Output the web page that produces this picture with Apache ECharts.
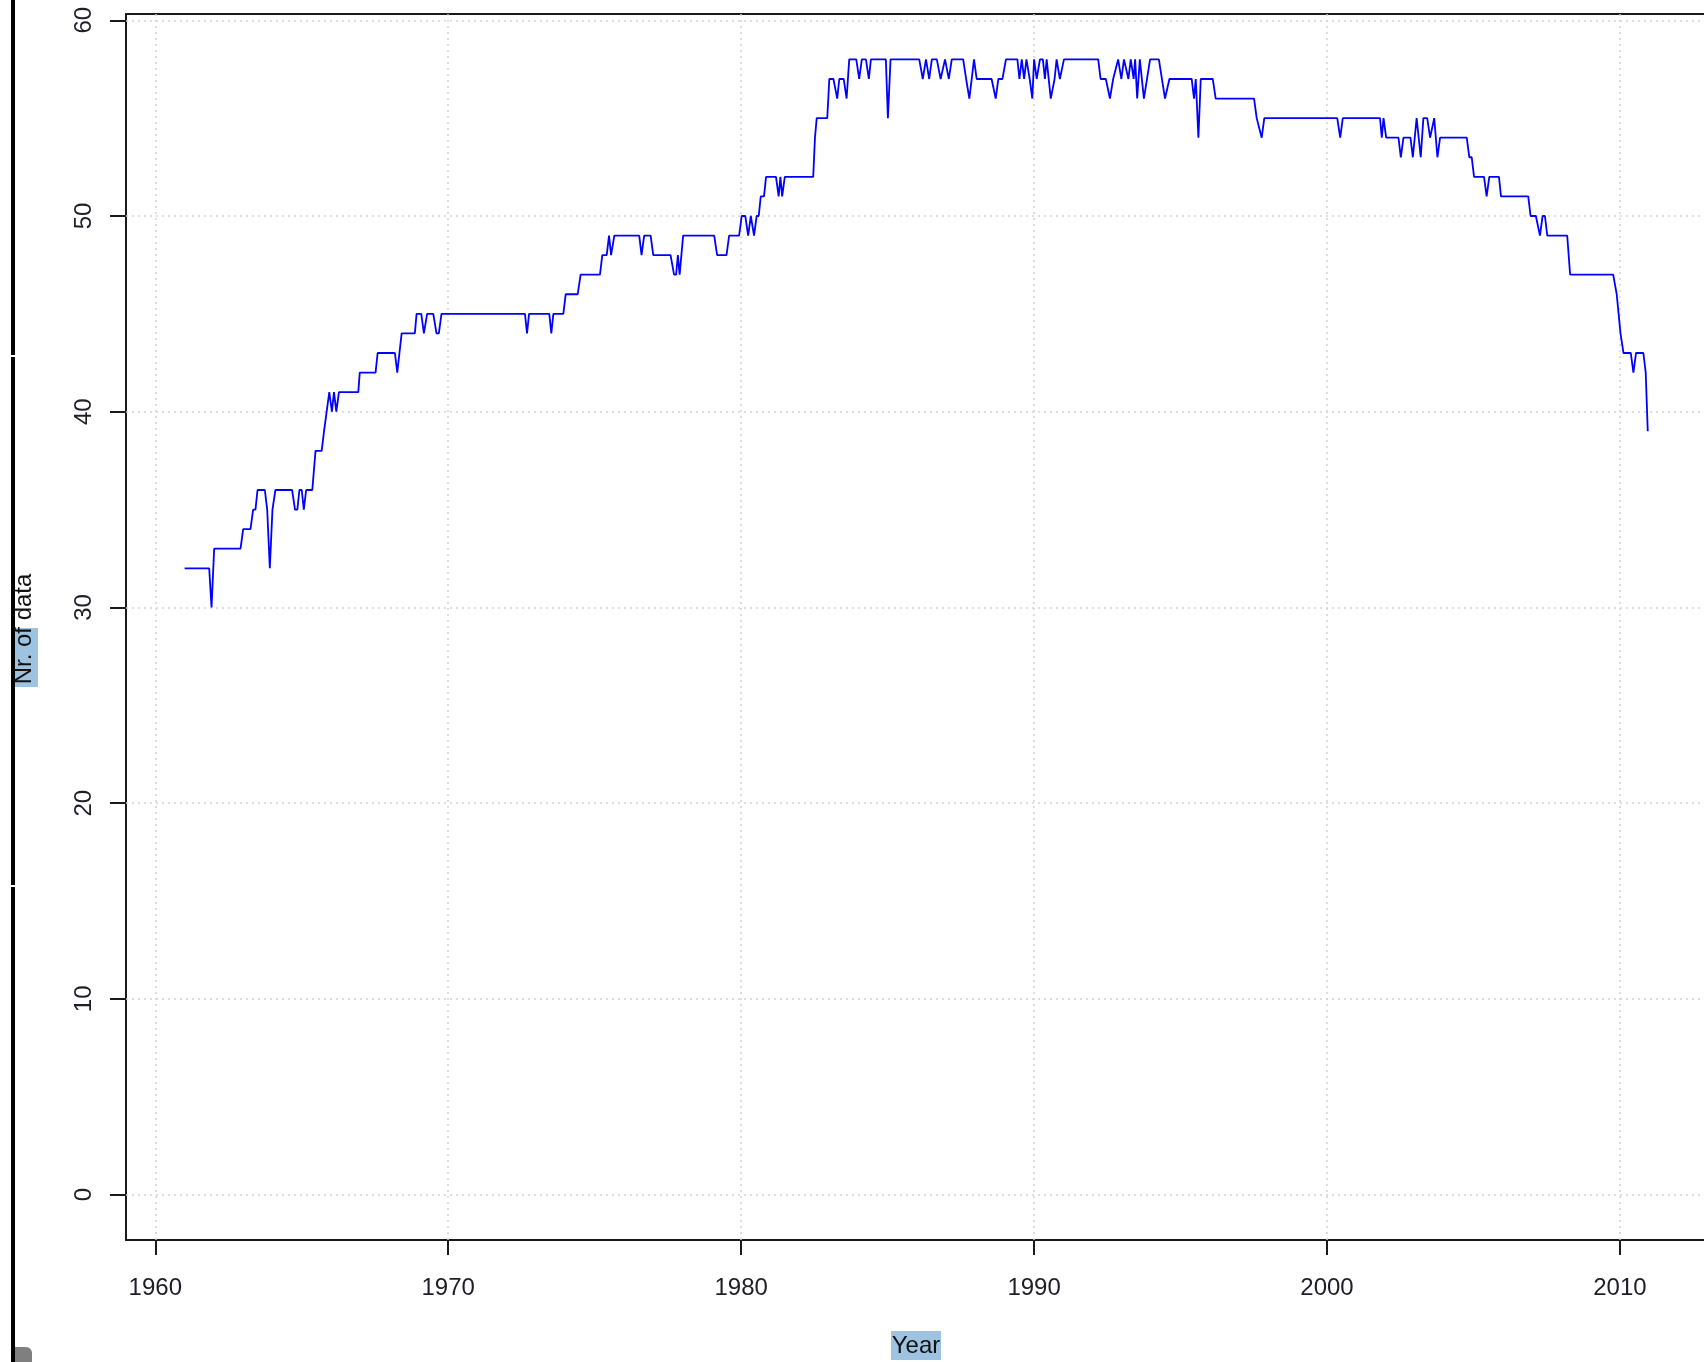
<!DOCTYPE html>
<html>
<head>
<meta charset="utf-8">
<script src="https://cdn.jsdelivr.net/npm/echarts@6/dist/echarts.min.js"></script>
<style>
  html, body { margin: 0; padding: 0; background: #fff; }
  #main { width: 1704px; height: 1362px; }
</style>
</head>
<body>
<div id="main"></div>
<script>
// vertices of the monthly count line (decimal year, nr. of data)
var years = [
  1961.00, 1961.84, 1961.92, 1962.01, 1962.91, 1963.00, 1963.25, 1963.34, 1963.42, 1963.49,
  1963.74, 1963.82, 1963.91, 1964.00, 1964.10, 1964.67, 1964.77, 1964.85, 1964.92, 1965.00,
  1965.07, 1965.15, 1965.36, 1965.47, 1965.68, 1965.76, 1965.85, 1965.94, 1966.03, 1966.10,
  1966.18, 1966.27, 1966.93, 1966.98, 1967.52, 1967.59, 1968.18, 1968.26, 1968.41, 1968.86,
  1968.92, 1969.08, 1969.17, 1969.28, 1969.49, 1969.60, 1969.68, 1969.77, 1972.62, 1972.69,
  1972.76, 1973.45, 1973.52, 1973.59, 1973.93, 1974.01, 1974.42, 1974.52, 1975.18, 1975.26,
  1975.41, 1975.49, 1975.56, 1975.67, 1976.52, 1976.60, 1976.69, 1976.91, 1977.00, 1977.59,
  1977.71, 1977.78, 1977.84, 1977.90, 1978.02, 1979.08, 1979.18, 1979.50, 1979.59, 1979.93,
  1980.02, 1980.14, 1980.24, 1980.33, 1980.44, 1980.53, 1980.60, 1980.67, 1980.78, 1980.85,
  1981.19, 1981.28, 1981.34, 1981.40, 1981.49, 1982.46, 1982.52, 1982.58, 1982.94, 1983.01,
  1983.15, 1983.28, 1983.35, 1983.50, 1983.60, 1983.69, 1983.93, 1984.03, 1984.12, 1984.26,
  1984.36, 1984.43, 1984.94, 1985.01, 1985.10, 1986.08, 1986.20, 1986.31, 1986.42, 1986.51,
  1986.68, 1986.81, 1986.96, 1987.02, 1987.09, 1987.19, 1987.58, 1987.68, 1987.79, 1987.95,
  1988.04, 1988.55, 1988.69, 1988.78, 1988.92, 1989.04, 1989.43, 1989.50, 1989.58, 1989.66,
  1989.74, 1989.85, 1989.94, 1990.00, 1990.09, 1990.20, 1990.30, 1990.37, 1990.43, 1990.57,
  1990.70, 1990.77, 1990.88, 1991.02, 1992.19, 1992.27, 1992.45, 1992.59, 1992.70, 1992.87,
  1992.98, 1993.07, 1993.22, 1993.30, 1993.40, 1993.45, 1993.52, 1993.61, 1993.75, 1993.96,
  1994.26, 1994.47, 1994.62, 1995.38, 1995.46, 1995.52, 1995.61, 1995.69, 1996.10, 1996.20,
  1997.51, 1997.60, 1997.77, 1997.86, 2000.35, 2000.45, 2000.54, 2001.81, 2001.87, 2001.93,
  2002.02, 2002.44, 2002.52, 2002.61, 2002.85, 2002.93, 2003.06, 2003.20, 2003.29, 2003.42,
  2003.52, 2003.66, 2003.77, 2003.86, 2004.77, 2004.86, 2004.94, 2005.02, 2005.36, 2005.45,
  2005.54, 2005.87, 2005.94, 2006.87, 2006.95, 2007.13, 2007.27, 2007.36, 2007.44, 2007.52,
  2008.20, 2008.30, 2009.77, 2009.89, 2009.95, 2010.02, 2010.12, 2010.37, 2010.46, 2010.55,
  2010.80, 2010.88, 2010.95
];
var counts = [
  32, 32, 30, 33, 33, 34, 34, 35, 35, 36,
  36, 35, 32, 35, 36, 36, 35, 35, 36, 36,
  35, 36, 36, 38, 38, 39, 40, 41, 40, 41,
  40, 41, 41, 42, 42, 43, 43, 42, 44, 44,
  45, 45, 44, 45, 45, 44, 44, 45, 45, 44,
  45, 45, 44, 45, 45, 46, 46, 47, 47, 48,
  48, 49, 48, 49, 49, 48, 49, 49, 48, 48,
  47, 47, 48, 47, 49, 49, 48, 48, 49, 49,
  50, 50, 49, 50, 49, 50, 50, 51, 51, 52,
  52, 51, 52, 51, 52, 52, 54, 55, 55, 57,
  57, 56, 57, 57, 56, 58, 58, 57, 58, 58,
  57, 58, 58, 55, 58, 58, 57, 58, 57, 58,
  58, 57, 58, 58, 57, 58, 58, 57, 56, 58,
  57, 57, 56, 57, 57, 58, 58, 57, 58, 57,
  58, 57, 56, 58, 57, 58, 58, 57, 58, 56,
  57, 58, 57, 58, 58, 57, 57, 56, 57, 58,
  57, 58, 57, 58, 57, 58, 56, 58, 56, 58,
  58, 56, 57, 57, 56, 57, 54, 57, 57, 56,
  56, 55, 54, 55, 55, 54, 55, 55, 54, 55,
  54, 54, 53, 54, 54, 53, 55, 53, 55, 55,
  54, 55, 53, 54, 54, 53, 53, 52, 52, 51,
  52, 52, 51, 51, 50, 50, 49, 50, 50, 49,
  49, 47, 47, 46, 46, 44, 43, 43, 42, 43,
  43, 42, 39
];
var yearTicks = [1960, 1970, 1980, 1990, 2000, 2010];
var countTicks = [0, 10, 20, 30, 40, 50, 60];

var chart = echarts.init(document.getElementById('main'));

var gridLines = [];
yearTicks.forEach(function (v) { gridLines.push({ xAxis: v }); });
countTicks.forEach(function (v) { gridLines.push({ yAxis: v }); });

var labelColor = '#1e1e28';
var font = 'Liberation Sans, Arial, sans-serif';
var boxLine = { show: true, onZero: false, lineStyle: { color: '#1a1a1a', width: 2 } };

// the plot box runs past the right edge of the page, so the right side is cut off
var xMin = 1959, xMax = 2012.87;

var option = {
  animation: false,
  backgroundColor: '#ffffff',
  grid: { left: 126, top: 14, right: 0, height: 1226 },
  xAxis: [
    {
      type: 'value', min: xMin, max: xMax, position: 'bottom',
      axisLine: boxLine,
      splitLine: { show: false },
      axisTick: {
        show: true, customValues: yearTicks, length: 15, inside: false,
        lineStyle: { color: '#1a1a1a', width: 2 }
      },
      axisLabel: {
        customValues: yearTicks, margin: 36, fontSize: 24,
        fontFamily: font, color: labelColor,
        formatter: function (v) { return String(v); }
      }
    },
    {
      type: 'value', min: xMin, max: xMax, position: 'top',
      axisLine: boxLine,
      axisTick: { show: false }, axisLabel: { show: false }, splitLine: { show: false }
    }
  ],
  yAxis: {
    type: 'value', min: -2.32, max: 60.32,
    axisLine: boxLine,
    splitLine: { show: false },
    axisTick: {
      show: true, customValues: countTicks, length: 16, inside: false,
      lineStyle: { color: '#1a1a1a', width: 2 }
    },
    axisLabel: {
      customValues: countTicks, rotate: 90, margin: 30, fontSize: 24,
      fontFamily: font, color: labelColor
    }
  },
  graphic: [
    { type: 'rect', shape: { x: 11, y: 0, width: 4, height: 1362 }, style: { fill: '#000' }, z: 10 },
    { type: 'rect', shape: { x: 0, y: 355, width: 18, height: 2 }, style: { fill: '#fff' }, z: 11 },
    { type: 'rect', shape: { x: 0, y: 885, width: 18, height: 2 }, style: { fill: '#fff' }, z: 11 },
    { type: 'rect', shape: { x: 15, y: 1347, width: 17, height: 20, r: [0, 6, 0, 0] }, style: { fill: '#7f7f7f' }, z: 10 },
    { type: 'rect', shape: { x: 891, y: 1331, width: 50, height: 29 }, style: { fill: '#9dc3e0' }, z: 10 },
    {
      type: 'text', x: 916, y: 1346, z: 11,
      style: { text: 'Year', fontSize: 24, fontFamily: font, fill: '#111', align: 'center', verticalAlign: 'middle' }
    },
    { type: 'rect', shape: { x: 15, y: 628, width: 23, height: 59 }, style: { fill: '#9dc3e0' }, z: 10 },
    {
      type: 'text', x: 24, y: 629, rotation: Math.PI / 2, z: 11,
      style: { text: 'Nr. of data', fontSize: 24, fontFamily: font, fill: '#111', align: 'center', verticalAlign: 'middle' }
    }
  ],
  series: [
    {
      type: 'line',
      data: [],
      silent: true,
      markLine: {
        silent: true,
        symbol: 'none',
        label: { show: false },
        lineStyle: { color: '#d3d3d3', width: 1.5, type: [2, 4] },
        data: gridLines
      }
    },
    {
      name: 'Nr. of data',
      type: 'line',
      showSymbol: false,
      data: years.map(function (y, i) { return [y, counts[i]]; }),
      lineStyle: { color: '#0000ff', width: 1.8 },
      itemStyle: { color: '#0000ff' },
      z: 5
    }
  ]
};

chart.setOption(option);
</script>
</body>
</html>
